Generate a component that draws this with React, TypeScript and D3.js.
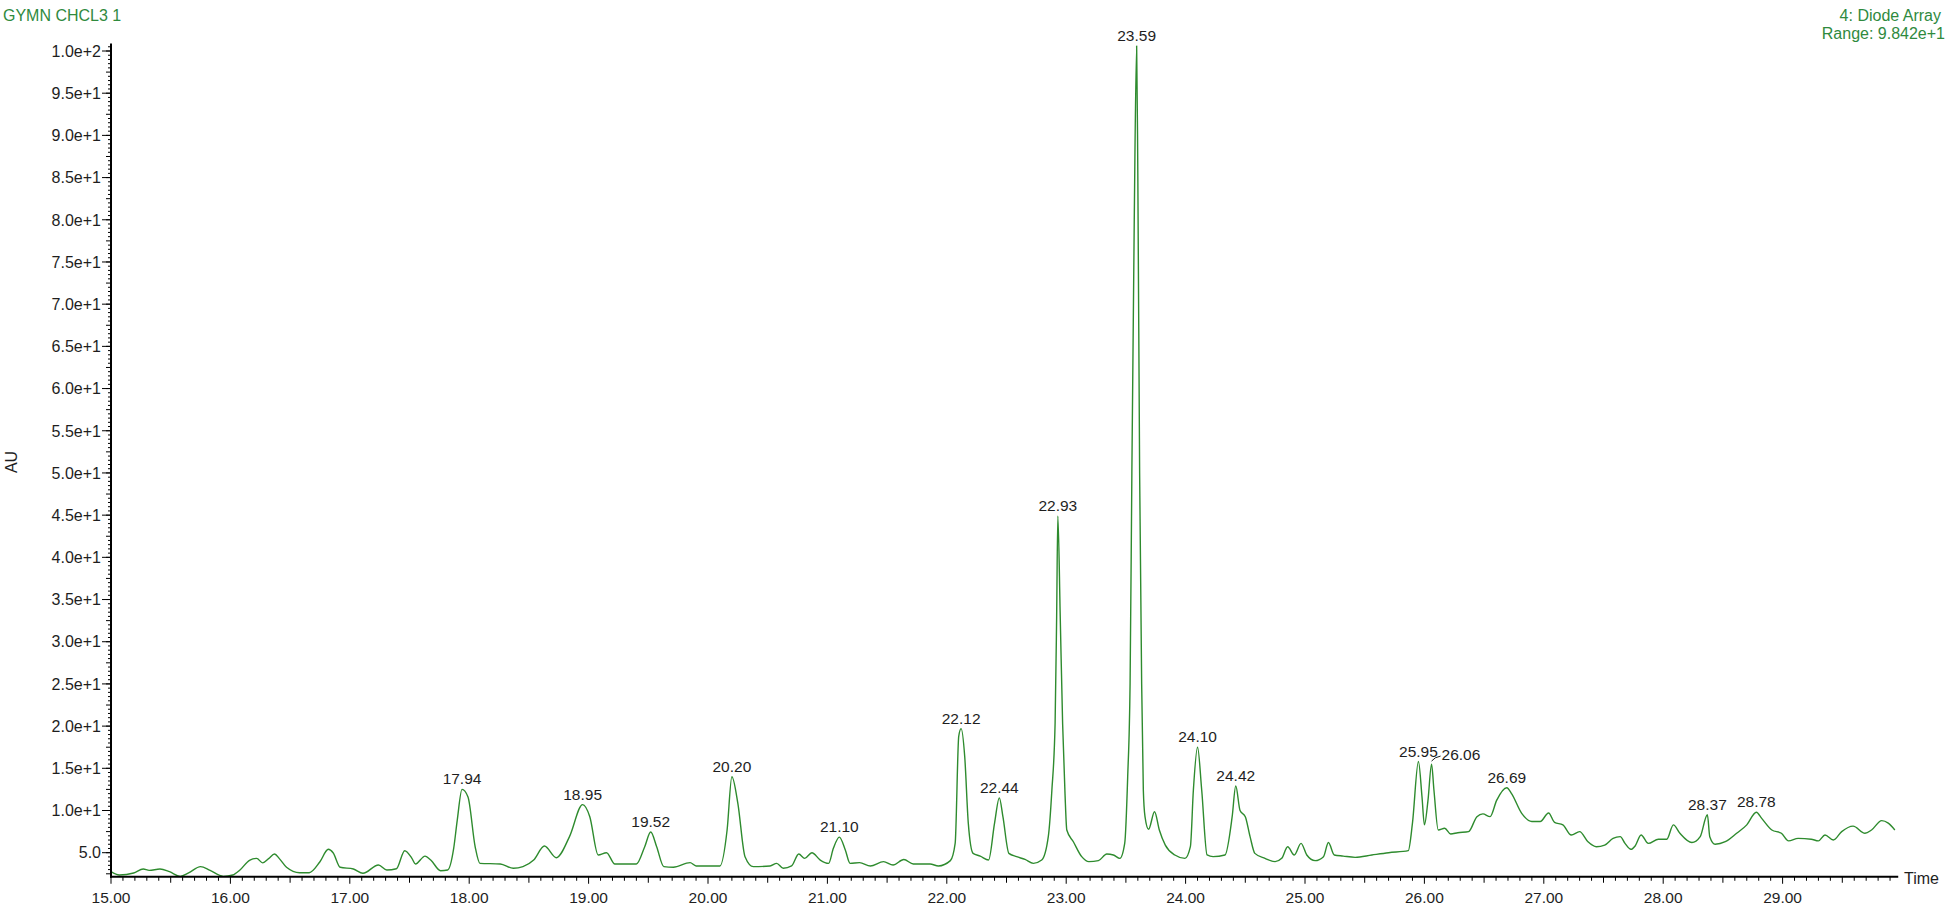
import React from "react";
import * as d3 from "d3";

// Retention time (min)
const times: number[] = [
  15.0, 15.07, 15.19, 15.27, 15.32, 15.41, 15.49, 15.58, 15.65, 15.75, 15.83, 15.94,
  16.02, 16.08, 16.16, 16.22, 16.27, 16.32, 16.37, 16.41, 16.47, 16.58, 16.66, 16.75,
  16.82, 16.86, 16.92, 17.03, 17.11, 17.24, 17.31, 17.39, 17.46, 17.52, 17.55, 17.63,
  17.68, 17.76, 17.82, 17.87, 17.9, 17.94, 17.99, 18.05, 18.09, 18.26, 18.37, 18.45,
  18.54, 18.63, 18.73, 18.84, 18.95, 19.01, 19.08, 19.15, 19.22, 19.4, 19.47, 19.52,
  19.57, 19.63, 19.71, 19.85, 19.9, 20.1, 20.16, 20.2, 20.25, 20.31, 20.38, 20.52,
  20.575, 20.63, 20.7, 20.76, 20.81, 20.87, 20.94, 21.01, 21.05, 21.1, 21.15, 21.19,
  21.27, 21.36, 21.47, 21.55, 21.64, 21.72, 21.86, 21.93, 22.03, 22.07, 22.1, 22.12,
  22.15, 22.18, 22.22, 22.28, 22.35, 22.4, 22.44, 22.47, 22.52, 22.585, 22.655, 22.725,
  22.795, 22.85, 22.88, 22.907, 22.92, 22.93, 22.95, 22.97, 22.99, 23.005, 23.06, 23.13,
  23.19, 23.27, 23.34, 23.395, 23.45, 23.49, 23.515, 23.535, 23.55, 23.57, 23.59, 23.6,
  23.615, 23.632, 23.646, 23.66, 23.69, 23.74, 23.78, 23.83, 23.91, 23.995, 24.04, 24.065,
  24.1, 24.135, 24.18, 24.23, 24.33, 24.39, 24.42, 24.456, 24.5, 24.54, 24.58, 24.665,
  24.75, 24.805, 24.855, 24.91, 24.967, 25.015, 25.085, 25.155, 25.196, 25.245, 25.32, 25.42,
  25.56, 25.7, 25.865, 25.9, 25.95, 25.98, 26.0, 26.03, 26.06, 26.08, 26.116, 26.17,
  26.22, 26.28, 26.37, 26.44, 26.49, 26.55, 26.605, 26.69, 26.73, 26.815, 26.9, 26.97,
  27.04, 27.09, 27.16, 27.23, 27.3, 27.37, 27.44, 27.51, 27.58, 27.64, 27.68, 27.73,
  27.765, 27.815, 27.875, 27.96, 28.03, 28.085, 28.14, 28.24, 28.31, 28.37, 28.39, 28.435,
  28.52, 28.615, 28.7, 28.78, 28.825, 28.91, 28.99, 29.05, 29.13, 29.24, 29.3, 29.355,
  29.425, 29.495, 29.59, 29.69, 29.745, 29.83, 29.885, 29.94,
];

// Absorbance (AU)
const values: number[] = [
  2.75, 2.36, 2.6, 3.07, 2.9, 3.07, 2.75, 2.2, 2.6, 3.35, 2.9, 2.2,
  2.36, 2.95, 4.1, 4.33, 3.8, 4.3, 4.85, 4.3, 3.27, 2.63, 2.63, 3.93,
  5.4, 5.0, 3.27, 3.07, 2.56, 3.54, 2.95, 3.1, 5.24, 4.33, 3.66, 4.6,
  4.1, 2.87, 2.95, 5.5, 8.87, 12.5, 11.6, 5.7, 3.74, 3.66, 3.15, 3.35,
  4.13, 5.79, 4.41, 6.9, 10.7, 9.27, 4.73, 5.0, 3.66, 3.66, 5.71, 7.45,
  5.71, 3.35, 3.27, 3.82, 3.43, 3.43, 7.69, 14.0, 10.85, 4.53, 3.35, 3.43,
  3.74, 3.15, 3.43, 4.84, 4.33, 5.0, 4.13, 3.74, 5.52, 6.85, 5.32, 3.74,
  3.82, 3.43, 3.94, 3.55, 4.2, 3.66, 3.66, 3.43, 4.06, 6.1, 18.8, 19.7,
  16.4, 8.5, 4.92, 4.6, 4.13, 8.5, 11.5, 9.27, 4.92, 4.53, 4.2, 3.74,
  4.13, 6.9, 12.4, 20.3, 33.0, 44.9, 33.0, 20.3, 12.0, 7.69, 6.3, 4.53,
  3.94, 4.06, 4.84, 4.73, 4.33, 6.1, 14.0, 25.0, 50.0, 80.0, 100.6, 85.0,
  50.0, 25.0, 12.4, 9.27, 7.77, 9.86, 7.69, 5.9, 4.73, 4.33, 5.71, 12.4,
  17.5, 12.4, 4.73, 4.53, 4.73, 9.27, 12.9, 10.0, 9.27, 6.9, 4.92, 4.33,
  3.94, 4.33, 5.71, 4.73, 6.1, 4.73, 4.06, 4.53, 6.2, 4.73, 4.6, 4.45,
  4.73, 5.0, 5.24, 8.5, 15.8, 11.6, 8.3, 11.2, 15.5, 12.4, 7.69, 7.9,
  7.22, 7.37, 7.5, 9.27, 9.6, 9.27, 11.2, 12.7, 12.0, 9.66, 8.7, 8.7,
  9.7, 8.6, 8.3, 7.1, 7.5, 6.3, 5.71, 5.9, 6.7, 6.9, 6.1, 5.4,
  5.8, 7.1, 6.1, 6.6, 6.6, 8.3, 7.3, 6.2, 6.9, 9.5, 6.9, 6.0,
  6.3, 7.3, 8.3, 9.8, 9.07, 7.69, 7.3, 6.4, 6.7, 6.6, 6.4, 7.1,
  6.5, 7.5, 8.15, 7.3, 7.69, 8.8, 8.5, 7.69,
];

const peakLabels: string[] = [
  "17.94", "18.95", "19.52", "20.20", "21.10", "22.12", "22.44", "22.93", "23.59",
  "24.10", "24.42", "25.95", "26.06", "26.69", "28.37", "28.78",
];

const xTickValues: number[] = [15, 16, 17, 18, 19, 20, 21, 22, 23, 24, 25, 26, 27, 28, 29];
const yTickValues: number[] = [5, 10, 15, 20, 25, 30, 35, 40, 45, 50, 55, 60, 65, 70, 75, 80, 85, 90, 95, 100];

const W = 1949;
const H = 906;
const FONT = "Arial, 'Liberation Sans', sans-serif";
const LINE = "#2e8b2e";
const HEAD = "#2f8a3e";
const TXT = "#1e1e1e";

export default function App() {
  const x = d3.scaleLinear().domain([15, 29]).range([111, 1782.6]);
  const y = d3.scaleLinear().domain([5, 100]).range([852.7, 51]);
  const xMin = 15;
  const xMax = 29.96;
  const yMin = 2.15;
  const yMax = 100.9;
  const axisY = y(yMin);
  const axisX = x(xMin);

  const data: [number, number][] = times.map((t, i) => [t, values[i]]);
  const line = d3
    .line<[number, number]>()
    .x((d) => x(d[0]))
    .y((d) => y(d[1]))
    .curve(d3.curveMonotoneX);

  // minor ticks
  const xMinor: number[] = [];
  for (let k = 0; k <= 149; k++) {
    const t = 15 + k * 0.1;
    if (t <= xMax) xMinor.push(+t.toFixed(2));
  }
  const yMinor: number[] = [];
  for (let k = 0; k * 0.5 + 2.5 <= 100.5; k++) yMinor.push(2.5 + k * 0.5);

  const peakPos = peakLabels.map((lab) => {
    const t0 = parseFloat(lab);
    let best = 0;
    let bi = 0;
    data.forEach((d, i) => {
      if (Math.abs(d[0] - t0) <= 0.035 && d[1] > best) {
        best = d[1];
        bi = i;
      }
    });
    return { lab, t: data[bi][0], v: best };
  });

  return (
    <svg
      width={W}
      height={H}
      style={{ position: "absolute", left: 0, top: 0, background: "#fff" }}
      fontFamily={FONT}
    >
      <rect x={0} y={0} width={W} height={H} fill="#fff" />
      {/* headers */}
      <text x={3} y={20.5} fontSize={16} fill={HEAD}>GYMN CHCL3 1</text>
      <text x={1941} y={20.5} fontSize={16} fill={HEAD} textAnchor="end">4: Diode Array</text>
      <text x={1945} y={39} fontSize={16} fill={HEAD} textAnchor="end">Range: 9.842e+1</text>

      {/* trace */}
      <path d={line(data) || ""} fill="none" stroke={LINE} strokeWidth={1.4} strokeLinejoin="round" />

      {/* y axis */}
      <line x1={axisX} x2={axisX} y1={y(yMax)} y2={axisY + 1} stroke="#000" strokeWidth={2} />
      {yMinor.map((v) => (
        <line
          key={"ym" + v}
          x1={axisX}
          x2={axisX - (v % 2.5 === 0 ? 5 : 3)}
          y1={y(v)}
          y2={y(v)}
          stroke="#000"
          strokeWidth={1}
        />
      ))}
      {yTickValues.map((v) => (
        <g key={"yt" + v}>
          <line x1={axisX} x2={axisX - 9} y1={y(v)} y2={y(v)} stroke="#000" strokeWidth={1} />
          <text x={101} y={y(v)} dy="0.36em" fontSize={16} fill={TXT} textAnchor="end">
            {v < 10 ? v.toFixed(1) : v.toExponential(1)}
          </text>
        </g>
      ))}
      <text
        transform={`translate(17,462) rotate(-90)`}
        fontSize={16}
        fill={TXT}
        textAnchor="middle"
      >
        AU
      </text>

      {/* x axis */}
      <line x1={axisX - 1} x2={x(xMax) + 1} y1={axisY} y2={axisY} stroke="#000" strokeWidth={2} />
      {xMinor.map((t) => {
        const r = Math.round(t * 10);
        const len = r % 10 === 0 ? 7 : r % 5 === 0 ? 6 : 4;
        return (
          <line key={"xm" + t} x1={x(t)} x2={x(t)} y1={axisY} y2={axisY + len} stroke="#000" strokeWidth={1} />
        );
      })}
      {xTickValues.map((t) => (
        <text key={"xt" + t} x={x(t)} y={902.5} fontSize={15.5} fill={TXT} textAnchor="middle">
          {t.toFixed(2)}
        </text>
      ))}
      <text x={1904} y={884} fontSize={16} fill={TXT}>Time</text>

      {/* peak labels */}
      {peakPos.map((p) => {
        const px = x(p.t);
        const py = y(p.v);
        if (p.lab === "26.06") {
          return (
            <g key={p.lab}>
              <path d={`M${px},${py - 3} Q${px + 3},${py - 7} ${px + 9},${py - 8}`} fill="none" stroke={TXT} strokeWidth={1} />
              <text x={px + 10} y={py - 4} fontSize={15.5} fill={TXT}>{p.lab}</text>
            </g>
          );
        }
        return (
          <text key={p.lab} x={px} y={py - 5} fontSize={15.5} fill={TXT} textAnchor="middle">
            {p.lab}
          </text>
        );
      })}
    </svg>
  );
}
